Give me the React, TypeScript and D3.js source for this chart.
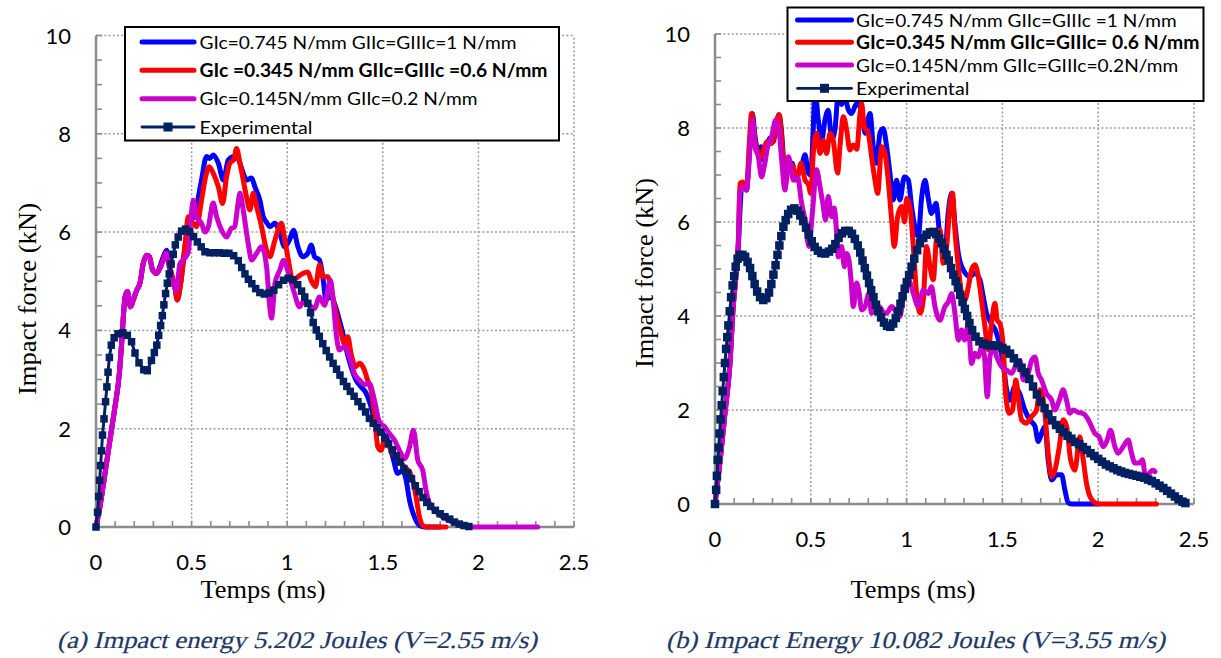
import React from 'react';
import * as d3 from 'd3';

type P = [number, number];

// ---------- labels ----------
const xTickValues = [0, 0.5, 1, 1.5, 2, 2.5];
const xTickLabels = ['0', '0.5', '1', '1.5', '2', '2.5'];
const yTickValues = [0, 2, 4, 6, 8, 10];
const yTickLabels = ['0', '2', '4', '6', '8', '10'];
const xTitle = 'Temps (ms)';
const yTitle = 'Impact force (kN)';
const captionA = '(a) Impact energy 5.202 Joules (V=2.55 m/s)';
const captionB = '(b) Impact Energy 10.082 Joules (V=3.55 m/s)';
const legendA = [
  'GIc=0.745 N/mm GIIc=GIIIc=1 N/mm',
  'GIc =0.345 N/mm GIIc=GIIIc =0.6 N/mm',
  'GIc=0.145N/mm GIIc=0.2 N/mm',
  'Experimental',
];
const legendB = [
  'GIc=0.745 N/mm GIIc=GIIIc =1 N/mm',
  'GIc=0.345 N/mm GIIc=GIIIc= 0.6 N/mm',
  'GIc=0.145N/mm GIIc=GIIIc=0.2N/mm',
  'Experimental',
];

// ---------- panel (a) data: [time ms, force kN] ----------
const aBlue: P[] = [[0,0],[0.02,0.4],[0.047,1.09],[0.073,1.77],[0.099,2.44],[0.122,3.12],[0.134,3.73],[0.152,4.68],[0.164,4.79],[0.181,4.48],[0.195,4.62],[0.213,4.82],[0.23,4.96],[0.247,5.36],[0.265,5.53],[0.279,5.5],[0.296,5.23],[0.317,5.16],[0.334,5.3],[0.352,5.5],[0.369,5.63],[0.385,5.3],[0.4,5.0],[0.413,4.85],[0.425,4.62],[0.443,4.96],[0.465,5.7],[0.491,6.31],[0.52,6.3],[0.535,6.7],[0.552,7.06],[0.578,7.54],[0.595,7.5],[0.613,7.57],[0.64,7.4],[0.666,7.06],[0.692,7.47],[0.718,7.54],[0.735,7.55],[0.753,7.4],[0.77,7.2],[0.787,7.06],[0.814,7.1],[0.831,6.92],[0.857,6.65],[0.875,6.31],[0.892,6.2],[0.909,6.11],[0.936,6.18],[0.962,5.97],[0.986,5.7],[1.012,5.84],[1.033,6.04],[1.056,5.7],[1.082,5.5],[1.108,5.57],[1.125,5.74],[1.143,5.5],[1.169,5.43],[1.186,5.09],[1.204,4.62],[1.225,4.7],[1.247,4.55],[1.273,4.21],[1.291,3.94],[1.31,3.6],[1.334,3.26],[1.36,2.99],[1.387,2.85],[1.413,2.72],[1.439,2.44],[1.465,2.04],[1.5,1.9],[1.526,1.77],[1.552,1.43],[1.578,1.09],[1.605,1.15],[1.622,0.95],[1.64,0.54],[1.666,0.2],[1.692,0.03],[1.72,0],[1.8,0]];
const aRed: P[] = [[0,0],[0.02,0.4],[0.047,1.09],[0.073,1.77],[0.099,2.44],[0.122,3.12],[0.134,3.73],[0.152,4.68],[0.164,4.79],[0.181,4.48],[0.195,4.62],[0.213,4.82],[0.23,4.96],[0.247,5.36],[0.265,5.53],[0.279,5.5],[0.296,5.23],[0.317,5.16],[0.334,5.26],[0.352,5.45],[0.366,5.57],[0.38,5.4],[0.395,5.16],[0.413,4.89],[0.425,4.62],[0.443,4.96],[0.465,5.7],[0.483,6.31],[0.505,6.2],[0.526,6.11],[0.552,6.65],[0.57,7.06],[0.592,7.33],[0.613,7.2],[0.64,6.92],[0.662,6.58],[0.683,7.13],[0.7,7.4],[0.721,7.47],[0.735,7.7],[0.753,7.4],[0.77,7.06],[0.787,6.72],[0.805,6.45],[0.822,6.79],[0.84,6.52],[0.866,6.11],[0.892,5.63],[0.909,5.5],[0.936,5.84],[0.97,6.18],[0.985,5.9],[1.003,5.5],[1.03,5.02],[1.056,5.09],[1.082,5.16],[1.108,5.19],[1.125,5.02],[1.148,4.89],[1.169,5.33],[1.186,5.09],[1.212,5.09],[1.235,4.75],[1.256,4.34],[1.282,3.94],[1.3,3.73],[1.317,3.87],[1.334,3.53],[1.357,3.26],[1.378,3.33],[1.404,3.19],[1.42,2.99],[1.439,2.78],[1.456,2.31],[1.474,1.63],[1.491,1.56],[1.509,1.77],[1.535,1.63],[1.561,1.46],[1.587,1.36],[1.613,1.22],[1.64,1.12],[1.657,0.95],[1.674,0.61],[1.692,0.2],[1.709,0.03],[1.73,0],[1.83,0]];
const aMagenta: P[] = [[0,0],[0.02,0.4],[0.047,1.09],[0.073,1.77],[0.099,2.44],[0.122,3.12],[0.134,3.73],[0.152,4.68],[0.164,4.79],[0.181,4.48],[0.195,4.62],[0.213,4.82],[0.23,4.96],[0.247,5.36],[0.265,5.53],[0.279,5.5],[0.296,5.23],[0.317,5.16],[0.334,5.26],[0.352,5.43],[0.366,5.57],[0.385,5.25],[0.405,4.95],[0.42,4.8],[0.439,5.36],[0.465,5.47],[0.483,5.6],[0.495,6.2],[0.509,6.65],[0.526,6.31],[0.552,6.18],[0.57,6.0],[0.587,6.1],[0.613,6.59],[0.631,6.31],[0.657,6.04],[0.683,5.9],[0.709,6.08],[0.725,6.1],[0.74,6.5],[0.753,6.79],[0.77,6.45],[0.796,5.77],[0.814,5.43],[0.84,5.57],[0.866,5.7],[0.892,5.3],[0.908,4.5],[0.918,4.25],[0.936,4.96],[0.962,5.23],[0.98,5.42],[1.012,5.09],[1.038,4.75],[1.064,4.48],[1.09,4.62],[1.117,4.51],[1.143,4.45],[1.169,4.68],[1.195,4.51],[1.226,5.02],[1.239,4.68],[1.256,3.94],[1.273,3.6],[1.3,3.67],[1.326,3.46],[1.352,3.12],[1.378,2.99],[1.405,2.9],[1.43,2.92],[1.456,2.58],[1.482,2.14],[1.509,2.04],[1.535,1.9],[1.561,1.77],[1.587,1.56],[1.613,1.39],[1.64,1.63],[1.66,1.97],[1.683,1.36],[1.709,1.15],[1.726,0.75],[1.744,0.48],[1.779,0.31],[1.814,0.2],[1.866,0.1],[1.918,0.03],[1.95,0],[2.31,0]];
const aExp: P[] = [[0,0],[0.008,0.3],[0.014,0.62],[0.019,0.95],[0.024,1.25],[0.029,1.55],[0.034,1.87],[0.042,2.2],[0.05,2.55],[0.057,2.85],[0.063,3.15],[0.07,3.45],[0.08,3.7],[0.095,3.85],[0.115,3.93],[0.14,3.95],[0.164,3.9],[0.186,3.77],[0.204,3.54],[0.225,3.34],[0.25,3.2],[0.268,3.18],[0.29,3.39],[0.305,3.55],[0.318,3.7],[0.328,3.9],[0.338,4.1],[0.347,4.3],[0.355,4.52],[0.364,4.75],[0.373,4.96],[0.383,5.15],[0.393,5.35],[0.404,5.55],[0.415,5.74],[0.43,5.9],[0.448,6.02],[0.468,6.06],[0.49,6.01],[0.51,5.91],[0.53,5.8],[0.55,5.7],[0.57,5.6],[0.595,5.58],[0.62,5.58],[0.645,5.58],[0.67,5.57],[0.695,5.57],[0.72,5.52],[0.744,5.42],[0.762,5.28],[0.779,5.15],[0.797,5.04],[0.815,4.95],[0.835,4.85],[0.857,4.77],[0.88,4.74],[0.905,4.76],[0.93,4.82],[0.955,4.93],[0.98,5.02],[1.005,5.06],[1.03,5.03],[1.055,4.93],[1.075,4.8],[1.092,4.68],[1.108,4.55],[1.122,4.36],[1.136,4.16],[1.152,4.01],[1.168,3.88],[1.186,3.73],[1.204,3.59],[1.222,3.46],[1.24,3.33],[1.258,3.21],[1.276,3.09],[1.294,2.96],[1.312,2.86],[1.33,2.76],[1.35,2.66],[1.37,2.55],[1.39,2.45],[1.41,2.34],[1.43,2.21],[1.45,2.11],[1.47,2.02],[1.49,1.93],[1.51,1.81],[1.53,1.69],[1.55,1.57],[1.57,1.45],[1.59,1.32],[1.61,1.19],[1.63,1.1],[1.65,0.98],[1.67,0.84],[1.69,0.72],[1.71,0.6],[1.73,0.5],[1.75,0.42],[1.775,0.34],[1.8,0.27],[1.825,0.21],[1.85,0.16],[1.875,0.1],[1.9,0.06],[1.925,0.03],[1.95,0.01]];

// ---------- panel (b) data ----------
const bBlue: P[] = [[0,0],[0.026,0.9],[0.052,1.93],[0.078,2.99],[0.095,4.2],[0.104,4.62],[0.113,5.1],[0.122,5.48],[0.13,6.2],[0.139,6.75],[0.153,6.82],[0.165,6.68],[0.175,7.2],[0.183,7.67],[0.195,8.31],[0.209,7.82],[0.226,7.5],[0.24,7.6],[0.252,7.32],[0.27,7.6],[0.287,7.78],[0.304,7.71],[0.318,8.03],[0.334,8.28],[0.351,7.74],[0.365,6.89],[0.383,7.25],[0.403,7.25],[0.421,6.93],[0.437,7.05],[0.452,7.18],[0.47,7.43],[0.487,7.04],[0.5,7.0],[0.511,7.8],[0.522,8.8],[0.539,8.17],[0.557,7.74],[0.574,8.17],[0.591,8.38],[0.609,7.74],[0.626,7.96],[0.643,8.7],[0.66,8.5],[0.678,8.65],[0.695,8.4],[0.713,8.31],[0.739,8.52],[0.765,8.38],[0.783,7.89],[0.809,8.31],[0.826,7.6],[0.843,7.25],[0.861,7.89],[0.878,7.99],[0.896,7.6],[0.913,7.04],[0.93,6.47],[0.948,6.89],[0.965,6.47],[0.988,6.96],[1.009,6.89],[1.026,6.33],[1.043,5.9],[1.061,5.69],[1.078,6.5],[1.096,6.89],[1.113,6.5],[1.13,6.18],[1.153,6.4],[1.174,5.69],[1.2,5.33],[1.217,6.18],[1.235,6.61],[1.252,5.97],[1.27,5.33],[1.296,4.98],[1.33,4.84],[1.357,4.91],[1.383,4.77],[1.4,4.41],[1.417,4.06],[1.443,3.84],[1.47,3.63],[1.487,3.35],[1.504,2.99],[1.522,2.43],[1.539,2.21],[1.565,2.5],[1.59,2.35],[1.617,2.0],[1.643,1.79],[1.67,1.65],[1.687,1.33],[1.704,1.5],[1.722,1.65],[1.739,0.94],[1.757,0.51],[1.783,0.62],[1.809,0.62],[1.826,0.3],[1.843,0.03],[1.86,0],[2.0,0]];
const bRed: P[] = [[0,0],[0.026,0.9],[0.052,1.93],[0.078,2.99],[0.095,4.2],[0.104,4.62],[0.113,5.1],[0.122,5.6],[0.13,6.82],[0.145,6.85],[0.165,6.68],[0.178,7.6],[0.191,8.31],[0.209,7.74],[0.226,7.46],[0.24,7.39],[0.255,7.55],[0.27,7.71],[0.296,7.67],[0.315,7.95],[0.334,8.28],[0.351,7.6],[0.365,6.75],[0.383,7.15],[0.403,7.21],[0.426,6.89],[0.449,7.25],[0.47,6.89],[0.487,6.8],[0.5,6.61],[0.513,7.46],[0.53,7.89],[0.548,7.46],[0.565,7.74],[0.583,7.46],[0.6,7.89],[0.617,7.74],[0.64,7.04],[0.652,7.6],[0.67,8.24],[0.687,7.96],[0.704,7.53],[0.722,7.64],[0.74,7.55],[0.757,8.31],[0.765,8.52],[0.779,8.03],[0.8,7.89],[0.817,7.39],[0.835,6.89],[0.849,6.61],[0.87,7.6],[0.887,7.46],[0.904,6.89],[0.922,6.04],[0.936,5.48],[0.953,6.11],[0.974,6.33],[0.99,6.0],[1.0,6.5],[1.017,6.33],[1.035,5.48],[1.052,4.48],[1.07,4.06],[1.087,4.34],[1.104,5.48],[1.122,5.05],[1.139,4.77],[1.157,5.69],[1.174,5.83],[1.191,5.12],[1.209,5.48],[1.226,6.33],[1.24,6.61],[1.252,5.83],[1.27,5.05],[1.287,4.48],[1.304,4.34],[1.322,4.62],[1.339,4.98],[1.357,5.09],[1.374,4.84],[1.391,4.34],[1.409,3.77],[1.426,3.28],[1.443,3.84],[1.461,4.27],[1.473,3.91],[1.487,3.84],[1.504,3.35],[1.518,2.28],[1.536,1.93],[1.553,2.0],[1.57,2.64],[1.585,2.2],[1.6,1.79],[1.626,1.72],[1.652,1.86],[1.678,2.0],[1.696,2.43],[1.722,1.93],[1.739,1.08],[1.757,0.58],[1.774,0.72],[1.797,1.22],[1.817,1.79],[1.835,1.65],[1.856,0.94],[1.878,0.72],[1.904,1.43],[1.922,0.94],[1.939,0.44],[1.957,0.16],[1.983,0.03],[2.0,0],[2.304,0]];
const bMagenta: P[] = [[0,0],[0.026,0.9],[0.052,1.93],[0.078,2.99],[0.095,4.2],[0.104,4.62],[0.113,5.1],[0.122,5.6],[0.13,6.6],[0.145,6.75],[0.165,6.68],[0.175,7.1],[0.183,7.6],[0.195,8.17],[0.209,7.6],[0.226,7.39],[0.243,6.96],[0.257,7.18],[0.275,7.6],[0.296,7.82],[0.317,8.17],[0.334,7.96],[0.348,7.32],[0.365,6.68],[0.383,7.39],[0.395,7.2],[0.409,6.89],[0.431,6.96],[0.452,6.4],[0.47,6.04],[0.49,5.48],[0.508,6.18],[0.53,7.11],[0.548,6.75],[0.565,6.33],[0.577,6.04],[0.591,6.54],[0.609,6.11],[0.622,6.3],[0.635,5.76],[0.643,5.26],[0.661,5.48],[0.675,5.05],[0.687,5.33],[0.699,5.19],[0.71,4.77],[0.722,4.2],[0.739,4.7],[0.752,4.5],[0.765,4.13],[0.783,4.2],[0.803,4.48],[0.817,4.06],[0.835,4.13],[0.856,4.2],[0.875,4.1],[0.896,4.06],[0.922,4.2],[0.948,4.06],[0.965,3.99],[0.983,4.41],[1.009,4.77],[1.035,4.48],[1.061,4.2],[1.087,4.55],[1.113,4.48],[1.13,4.62],[1.148,4.2],[1.174,3.91],[1.2,4.2],[1.218,4.3],[1.235,4.48],[1.252,4.06],[1.27,3.49],[1.287,3.7],[1.304,3.49],[1.322,3.84],[1.339,2.99],[1.357,3.21],[1.374,3.13],[1.391,3.35],[1.405,3.2],[1.421,2.28],[1.435,3.13],[1.452,3.35],[1.47,3.13],[1.496,2.92],[1.522,2.85],[1.548,2.78],[1.57,2.95],[1.591,3.06],[1.609,2.64],[1.635,2.78],[1.652,3.05],[1.67,3.13],[1.687,2.78],[1.704,2.64],[1.73,2.35],[1.757,2.21],[1.774,2.0],[1.797,2.21],[1.817,2.43],[1.835,2.2],[1.852,1.93],[1.87,2.0],[1.895,1.95],[1.918,1.93],[1.94,1.85],[1.957,1.72],[1.983,1.5],[2.005,1.43],[2.026,1.22],[2.047,1.36],[2.064,1.57],[2.087,1.22],[2.104,1.08],[2.13,1.22],[2.157,1.36],[2.174,1.08],[2.191,0.87],[2.214,0.87],[2.231,0.94],[2.249,0.51],[2.266,0.65],[2.287,0.72],[2.296,0.69]];
const bExp: P[] = [[0,0],[0.006,0.3],[0.01,0.6],[0.014,0.94],[0.019,1.2],[0.024,1.5],[0.029,1.8],[0.035,2.1],[0.04,2.4],[0.046,2.7],[0.052,3.0],[0.058,3.3],[0.064,3.55],[0.07,3.8],[0.077,4.1],[0.084,4.4],[0.092,4.65],[0.1,4.85],[0.108,5.05],[0.118,5.22],[0.13,5.3],[0.143,5.3],[0.157,5.26],[0.17,5.15],[0.183,5.02],[0.195,4.85],[0.207,4.68],[0.22,4.52],[0.235,4.4],[0.252,4.34],[0.268,4.38],[0.282,4.5],[0.294,4.68],[0.305,4.88],[0.316,5.08],[0.326,5.3],[0.336,5.5],[0.346,5.7],[0.357,5.9],[0.369,6.04],[0.382,6.17],[0.397,6.26],[0.414,6.29],[0.43,6.24],[0.445,6.14],[0.46,6.02],[0.475,5.88],[0.49,5.73],[0.505,5.59],[0.52,5.47],[0.537,5.39],[0.555,5.34],[0.575,5.33],[0.595,5.37],[0.612,5.43],[0.628,5.53],[0.645,5.66],[0.662,5.76],[0.68,5.81],[0.698,5.81],[0.715,5.75],[0.73,5.64],[0.745,5.5],[0.758,5.35],[0.77,5.18],[0.782,5.02],[0.793,4.86],[0.804,4.7],[0.815,4.55],[0.827,4.4],[0.84,4.24],[0.853,4.1],[0.867,3.97],[0.882,3.86],[0.898,3.79],[0.915,3.77],[0.93,3.84],[0.944,3.96],[0.957,4.1],[0.968,4.26],[0.979,4.42],[0.99,4.58],[1.001,4.72],[1.013,4.87],[1.026,5.05],[1.04,5.22],[1.055,5.4],[1.07,5.55],[1.087,5.66],[1.104,5.73],[1.122,5.78],[1.139,5.79],[1.155,5.74],[1.17,5.65],[1.183,5.55],[1.196,5.43],[1.208,5.3],[1.22,5.18],[1.232,5.02],[1.244,4.88],[1.256,4.74],[1.268,4.6],[1.28,4.45],[1.292,4.3],[1.304,4.15],[1.316,4.0],[1.328,3.85],[1.342,3.7],[1.36,3.56],[1.38,3.46],[1.4,3.41],[1.42,3.38],[1.44,3.38],[1.46,3.37],[1.48,3.36],[1.5,3.32],[1.52,3.28],[1.54,3.2],[1.56,3.1],[1.58,3.0],[1.6,2.9],[1.62,2.8],[1.64,2.66],[1.66,2.5],[1.68,2.33],[1.7,2.18],[1.72,2.04],[1.74,1.91],[1.76,1.78],[1.78,1.68],[1.8,1.6],[1.82,1.53],[1.84,1.45],[1.86,1.39],[1.88,1.32],[1.9,1.27],[1.92,1.21],[1.94,1.15],[1.96,1.08],[1.98,1.02],[2.0,0.96],[2.02,0.9],[2.04,0.84],[2.06,0.8],[2.08,0.76],[2.1,0.72],[2.12,0.69],[2.14,0.66],[2.16,0.64],[2.18,0.62],[2.2,0.6],[2.22,0.58],[2.24,0.56],[2.26,0.52],[2.28,0.49],[2.3,0.44],[2.32,0.39],[2.34,0.34],[2.36,0.28],[2.38,0.22],[2.4,0.16],[2.42,0.1],[2.44,0.05],[2.455,0.02]];

// ---------- styles ----------
const C_BLUE = '#0000FF';
const C_RED = '#FF0000';
const C_MAG = '#CC00CC';
const C_EXP = '#002060';
const C_AXIS = '#8c8c8c';
const C_GRID = '#9b9b9b';
const C_CAPTION = '#1F3864';
const SANS = 'Lato, Carlito, "Liberation Sans", sans-serif';
const SERIF = '"Liberation Serif", "Times New Roman", serif';

interface PanelCfg {
  left: number; right: number; bottom: number; top: number;
  blue: P[]; red: P[]; magenta: P[]; exp: P[];
  markerSize: number;
  legend: string[];
  legendWidths: number[];
  legendBox: [number, number, number, number];
  legendLineX: [number, number];
  legendTextX: number;
  legendRowsY: number[];
  xTitleCx: number; xTitleY: number;
  yTitleX: number; yTitleCy: number; yTitleLen: number;
  caption: string; captionX0: number; captionW: number; captionY: number;
}

function Panel({ c }: { c: PanelCfg }) {
  const x = d3.scaleLinear().domain([0, 2.5]).range([c.left, c.right]);
  const y = d3.scaleLinear().domain([0, 10]).range([c.bottom, c.top]);
  const smooth = d3.line<P>().x(d => x(d[0])).y(d => y(d[1])).curve(d3.curveMonotoneX);
  const straight = d3.line<P>().x(d => x(d[0])).y(d => y(d[1]));
  const minorX = d3.range(1, 26).map(i => i / 10);
  const minorY = d3.range(1, 21).map(i => i / 2);
  const ms = c.markerSize;
  const [bx0, by0, bx1, by1] = c.legendBox;
  const legendColors = [C_BLUE, C_RED, C_MAG, C_EXP];

  return (
    <g>
      {/* grid */}
      {yTickValues.filter(v => v > 0).map(v => (
        <line key={'gy' + v} x1={x(0)} x2={x(2.5)} y1={y(v)} y2={y(v)}
          stroke={C_GRID} strokeWidth={1.5} strokeDasharray="2 2.2" />
      ))}
      {xTickValues.filter(v => v > 0).map(v => (
        <line key={'gx' + v} x1={x(v)} x2={x(v)} y1={y(0)} y2={y(10)}
          stroke={C_GRID} strokeWidth={1.5} strokeDasharray="2 2.2" />
      ))}
      {/* axes */}
      <line x1={x(0)} x2={x(0)} y1={y(0) + 1} y2={y(10)} stroke={C_AXIS} strokeWidth={2.5} />
      <line x1={x(0)} x2={x(2.5)} y1={y(0)} y2={y(0)} stroke={C_AXIS} strokeWidth={2.5} />
      {minorX.map(v => (
        <line key={'mx' + v} x1={x(v)} x2={x(v)} y1={y(0)} y2={y(0) - 6}
          stroke={C_AXIS} strokeWidth={1.6} />
      ))}
      {minorY.map(v => (
        <line key={'my' + v} x1={x(0)} x2={x(0) + 6} y1={y(v)} y2={y(v)}
          stroke={C_AXIS} strokeWidth={1.6} />
      ))}
      {/* tick labels */}
      {yTickValues.map((v, i) => (
        <text key={'ty' + v} x={x(0) - 25} y={y(v) + 8} textAnchor="end"
          fontFamily={SANS} fontSize={22} fill="#000">{yTickLabels[i]}</text>
      ))}
      {xTickValues.map((v, i) => (
        <text key={'tx' + v} x={x(v)} y={y(0) + 43} textAnchor="middle"
          fontFamily={SANS} fontSize={22} fill="#000">{xTickLabels[i]}</text>
      ))}
      {/* series */}
      <path d={smooth(c.blue) || ''} fill="none" stroke={C_BLUE} strokeWidth={5} strokeLinejoin="round" strokeLinecap="round" />
      <path d={smooth(c.red) || ''} fill="none" stroke={C_RED} strokeWidth={5} strokeLinejoin="round" strokeLinecap="round" />
      <path d={smooth(c.magenta) || ''} fill="none" stroke={C_MAG} strokeWidth={5} strokeLinejoin="round" strokeLinecap="round" />
      <path d={straight(c.exp) || ''} fill="none" stroke={C_EXP} strokeWidth={3} strokeLinejoin="round" />
      {c.exp.map((d, i) => (
        <rect key={'m' + i} x={x(d[0]) - ms / 2} y={y(d[1]) - ms / 2} width={ms} height={ms} fill={C_EXP} />
      ))}
      {/* legend */}
      <rect x={bx0} y={by0} width={bx1 - bx0} height={by1 - by0} fill="#fff" stroke="#000" strokeWidth={2} />
      {c.legend.map((lab, i) => {
        const ly = c.legendRowsY[i];
        const isExp = i === 3;
        return (
          <g key={'lg' + i}>
            <line x1={c.legendLineX[0]} x2={c.legendLineX[1]} y1={ly} y2={ly}
              stroke={legendColors[i]} strokeWidth={isExp ? 2.8 : 5} strokeLinecap="round" />
            {isExp && (
              <rect x={(c.legendLineX[0] + c.legendLineX[1]) / 2 - 4.5} y={ly - 4.5} width={9} height={9} fill={C_EXP} />
            )}
            <text x={c.legendTextX} y={ly + 6.5} fontFamily={SANS} fontSize={18}
              fontWeight={i === 1 ? 'bold' : 'normal'} fill="#000"
              textLength={c.legendWidths[i]} lengthAdjust="spacingAndGlyphs">{lab}</text>
          </g>
        );
      })}
      {/* titles */}
      <text x={c.xTitleCx} y={c.xTitleY} textAnchor="middle" fontFamily={SERIF} fontSize={26}
        fill="#000" textLength={125} lengthAdjust="spacingAndGlyphs">{xTitle}</text>
      <text transform={`translate(${c.yTitleX},${c.yTitleCy}) rotate(-90)`} textAnchor="middle"
        fontFamily={SERIF} fontSize={26} fill="#000" textLength={c.yTitleLen}
        lengthAdjust="spacingAndGlyphs">{yTitle}</text>
      <text transform={`translate(${c.captionX0},${c.captionY}) skewX(-14)`} x={0} y={0}
        fontFamily={SERIF} fontSize={24} fill={C_CAPTION} stroke={C_CAPTION} strokeWidth={0.2}
        textLength={c.captionW} lengthAdjust="spacingAndGlyphs">{c.caption}</text>
    </g>
  );
}

const panelA: PanelCfg = {
  left: 96, right: 574, bottom: 527, top: 35.5,
  blue: aBlue, red: aRed, magenta: aMagenta, exp: aExp,
  markerSize: 7.5,
  legend: legendA,
  legendWidths: [317, 348, 278, 113],
  legendBox: [125, 27, 559, 140.5],
  legendLineX: [142, 194],
  legendTextX: 199.5,
  legendRowsY: [42, 70.3, 98.7, 127],
  xTitleCx: 263, xTitleY: 598,
  yTitleX: 36, yTitleCy: 299, yTitleLen: 192,
  caption: captionA, captionX0: 57, captionW: 480, captionY: 648,
};

const panelB: PanelCfg = {
  left: 715, right: 1194, bottom: 504, top: 34,
  blue: bBlue, red: bRed, magenta: bMagenta, exp: bExp,
  markerSize: 8.5,
  legend: legendB,
  legendWidths: [320.7, 343.3, 322.3, 113.3],
  legendBox: [787.5, 7.5, 1203.5, 101],
  legendLineX: [797.5, 851.5],
  legendTextX: 856,
  legendRowsY: [20, 42.3, 65, 88.3],
  xTitleCx: 913, xTitleY: 598,
  yTitleX: 653, yTitleCy: 273, yTitleLen: 190,
  caption: captionB, captionX0: 666, captionW: 499, captionY: 648,
};

export default function App() {
  return (
    <svg width={1221} height={658} viewBox="0 0 1221 658"
      style={{ position: 'absolute', left: 0, top: 0, display: 'block', background: '#fff' }}>
      <rect x={0} y={0} width={1221} height={658} fill="#fff" />
      <Panel c={panelA} />
      <Panel c={panelB} />
    </svg>
  );
}
